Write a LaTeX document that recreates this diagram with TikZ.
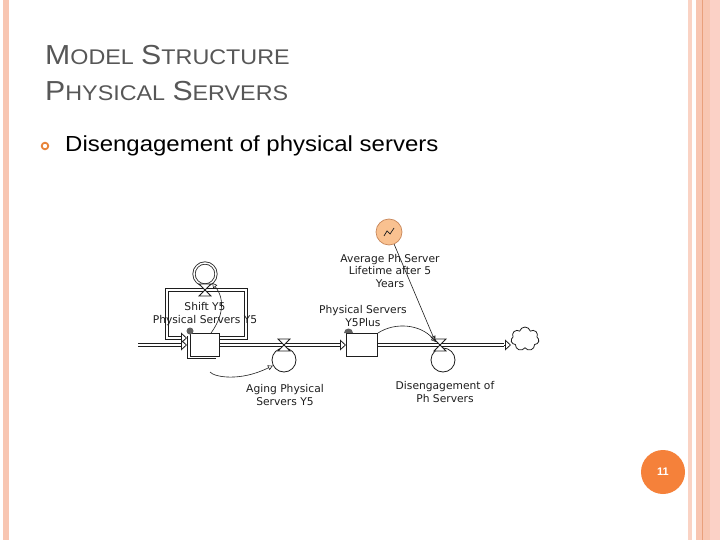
\documentclass[tikz,border=0pt]{standalone}
\usepackage{fontspec}
\setmainfont{Liberation Sans}
\newfontfamily\slidefont[FakeStretch=1.1]{Liberation Sans}
\newfontfamily\vsfont{DejaVu Sans}
\usepackage{xcolor}
\usetikzlibrary{arrows.meta,shapes.symbols}

\definecolor{stripe}{HTML}{F8C6B2}
\definecolor{stripelt}{HTML}{FAD3C4}
\definecolor{stripedk}{HTML}{E9A07C}
\definecolor{titlegray}{HTML}{575757}
\definecolor{bulletor}{HTML}{E8843A}
\definecolor{pagenum}{HTML}{F5813A}
\definecolor{constfill}{HTML}{F9C190}
\definecolor{constdraw}{HTML}{C8875A}
\definecolor{ink}{HTML}{1E1E1E}

% fake small caps for the slide title
\newcommand{\capsc}[2]{{\fontsize{27.5}{30}\selectfont #1}{\fontsize{21.2}{24}\selectfont #2}}
% hourglass valve on a horizontal pipe
\newcommand{\valve}[1]{%
  \filldraw[ink,fill=white,line width=0.8pt] ([shift={(-6,-6)}]#1) -- ([shift={(6,-6)}]#1)
    -- ([shift={(-6,6)}]#1) -- ([shift={(6,6)}]#1) -- cycle;}

\begin{document}
\begin{tikzpicture}[x=1pt,y=-1pt,>={Triangle[open,length=5pt,width=5pt]},
  font=\vsfont\fontsize{10.7}{12.5}\selectfont,
  pipe/.style={draw=ink,line width=1pt,double=white,double distance=2pt},
  pipetip/.style={draw=ink,line width=0.8pt,-{Triangle[open,length=6pt,width=11pt]}},
  info/.style={draw=ink,line width=0.6pt,->},
  stockbox/.style={draw=ink,line width=1pt,fill=white,inner sep=0,minimum width=29pt,minimum height=23pt},
  ratec/.style={circle,draw=ink,line width=0.8pt,fill=white,inner sep=0,minimum size=24pt},
  lbl/.style={align=center,text=ink,inner sep=0}]
  \useasboundingbox (0,0) rectangle (720,540);
  \fill[white] (0,0) rectangle (720,540);

  % side stripes
  \fill[stripe] (3,0) rectangle (9,540);
  \fill[stripelt] (688,0) rectangle (692,540);
  \fill[stripe] (696,0) rectangle (702,540);
  \fill[stripedk] (702,0) rectangle (703.3,540);
  \fill[stripe] (703.3,0) rectangle (710,540);
  \fill[stripe!90!red!60!white] (710,0) rectangle (720,540);

  % title and bullet
  \node[anchor=base west,text=titlegray,inner sep=0,font=\slidefont\fontsize{24}{28}\selectfont] (title1) at (45,65)
    {\capsc{M}{ODEL} \capsc{S}{TRUCTURE}};
  \node[anchor=base west,text=titlegray,inner sep=0,font=\slidefont\fontsize{24}{28}\selectfont] (title2) at (45,101)
    {\capsc{P}{HYSICAL} \capsc{S}{ERVERS}};
  \draw[bulletor,line width=1.8pt] (45,146) circle (3.3);
  \node[anchor=west,inner sep=0,font=\slidefont\fontsize{21.8}{26}\selectfont] (bullet) at (65,146)
    {Disengagement of physical servers};

  % stocks
  \node[stockbox] (psy5) at (205,345) {};
  \draw[ink,line width=1pt] (187.5,336) -- (187.5,358.5) -- (216,358.5);
  \node[stockbox,minimum width=31pt] (ps5p) at (362,345) {};
  \coordinate (src) at (138,345);
  \node[cloud,draw=ink,line width=0.8pt,cloud puffs=7,aspect=1.2,minimum width=28pt,
    minimum height=24pt,inner sep=0] (sink) at (525,339) {};

  % flow pipes
  \draw[pipe] (src) -- ([xshift=-9pt]psy5.west);
  \draw[pipetip] ([xshift=-9pt]psy5.west) -- ([xshift=-3pt]psy5.west);
  \draw[pipe] ([shift={(0,-7)}]psy5.east) -| (246,290) -- (167,290) |- ([shift={(-9,-7)}]psy5.west);
  \draw[pipetip] ([shift={(-9,-7)}]psy5.west) -- ([shift={(-3,-7)}]psy5.west);
  \draw[pipe] (psy5.east) -- ([xshift=-6pt]ps5p.west);
  \draw[pipetip] ([xshift=-6pt]ps5p.west) -- (ps5p.west);
  \draw[pipe] (ps5p.east) -- ([xshift=-7pt]ps5p.east -| sink.west);
  \draw[pipetip] ([xshift=-7pt]ps5p.east -| sink.west) -- (ps5p.east -| sink.west);

  % rates
  \coordinate (vshift) at (205,290);
  \coordinate (vage) at (284,345);
  \coordinate (vdis) at (440,345);
  \node[ratec,double,double distance=1.5pt,minimum size=22pt] (shift) at (205,274) {};
  \node[ratec] (aging) at (284,360) {};
  \node[ratec] (dis) at (443,360) {};
  \valve{vshift}
  \valve{vage}
  \valve{vdis}

  % constant
  \node[circle,draw=constdraw,fill=constfill,line width=0.7pt,inner sep=0,minimum size=26pt] (avg) at (389,232) {};
  \draw[ink,line width=0.7pt] (384,236) -- (387,231) -- (390,234) -- (394,228);

  % shadow markers
  \fill[gray!75!black] (190,331) circle (3.5);
  \fill[gray!75!black] (344,333) arc[start angle=180,end angle=360,radius=4.5] -- cycle;

  % labels
  \node[lbl] (lshift) at (205,307) {Shift Y5};
  \node[lbl] (lpsy5) at (205,321) {Physical Servers Y5};
  \node[lbl] (lps5p) at (363,316) {Physical Servers\\Y5Plus};
  \node[lbl] (lavg) at (390,271) {Average Ph Server\\Lifetime after 5\\Years};
  \node[lbl] (laging) at (285,395) {Aging Physical\\Servers Y5};
  \node[lbl] (ldis) at (445,392) {Disengagement of\\Ph Servers};

  % information links
  \draw[info] ([shift={(6,0)}]psy5.north) .. controls (222,318) and (226,300) .. (shift);
  \draw[info] ([shift={(5,15)}]psy5.south) .. controls (214,377) and (240,382) .. (aging);
  \draw[info] (ps5p.north east) .. controls (395,322) and (420,324) .. ([shift={(-4,-3)}]vdis);
  \draw[info] (avg) -- ([shift={(-5,-4)}]vdis);

  % page number
  \node[circle,fill=pagenum,minimum size=44pt,inner sep=0,text=white,
    font=\rmfamily\bfseries\fontsize{11}{13}\selectfont] (pnum) at (663,472) {11};
\end{tikzpicture}
\end{document}
